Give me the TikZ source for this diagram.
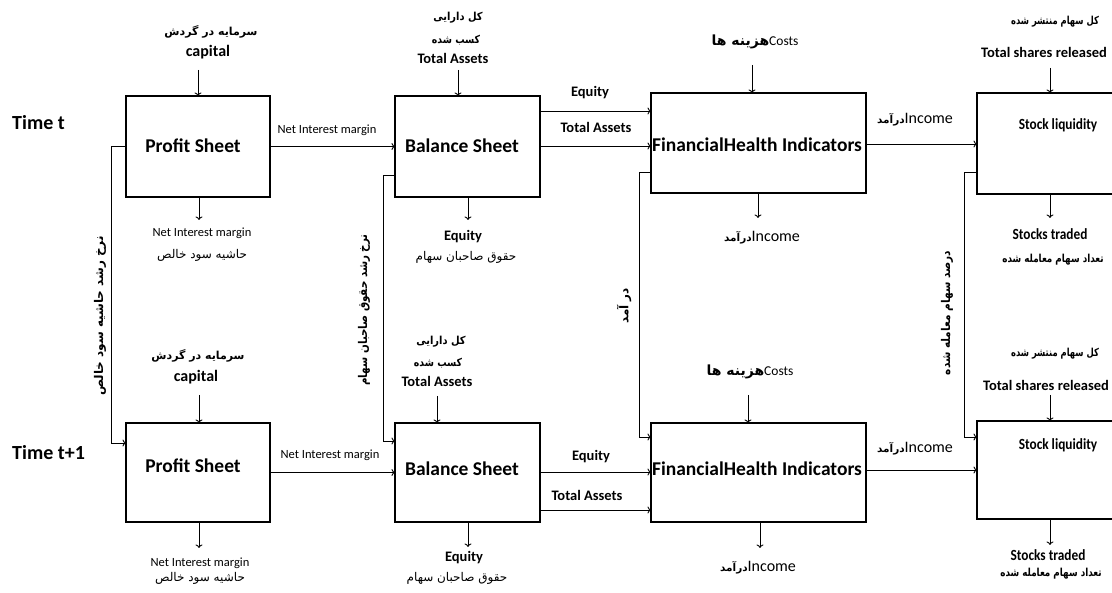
\documentclass[tikz,border=0pt]{standalone}
\usepackage{fontspec}
\usepackage{graphicx}
\setmainfont{Carlito}
\newfontfamily\ar[Script=Arabic]{DejaVu Sans}
\TeXXeTstate=1
\usetikzlibrary{arrows.meta}
\newcommand\fa[1]{{\ar\beginR #1\endR}}
\newcommand\sx[2]{\scalebox{#1}[1]{#2}}
\begin{document}
\begin{tikzpicture}[x=1pt,y=-1pt,
  box/.style={draw, line width=1.2pt, inner sep=0pt, outer sep=0pt, anchor=north west},
  arr/.style={-{To[length=3.5pt,width=7pt]}, line width=0.9pt},
  tt/.style={font=\bfseries\fontsize{20}{22}\selectfont, inner sep=0pt},
  bt/.style={font=\bfseries\fontsize{19.5}{22}\selectfont, inner sep=0pt},
  slt/.style={font=\bfseries\fontsize{15.5}{17}\selectfont, inner sep=0pt},
  enb/.style={font=\bfseries\fontsize{14.5}{16}\selectfont, inner sep=0pt},
  captxt/.style={font=\bfseries\fontsize{16}{18}\selectfont, inner sep=0pt},
  enr/.style={font=\fontsize{12.5}{14}\selectfont, inner sep=0pt},
  inc/.style={font=\fontsize{16}{18}\selectfont, inner sep=0pt},
  cst/.style={font=\fontsize{13.5}{15}\selectfont, inner sep=0pt},
  far/.style={font=\fontsize{12}{14}\selectfont, inner sep=0pt},
  fab/.style={font=\bfseries\fontsize{11}{13}\selectfont, inner sep=0pt},
  vfa/.style={font=\bfseries\fontsize{12}{14}\selectfont, inner sep=0pt, rotate=90}]
\fill[white] (0,0) rectangle (1112,593);
\useasboundingbox (0,0) rectangle (1112,593);

% time labels
\node[tt, anchor=west] (tt1) at (12,123) {Time t};
\node[tt, anchor=west] (tt2) at (12,453) {Time t+1};

% boxes
\node[box, minimum width=144, minimum height=101] (ps1) at (126,96) {};
\node[box, minimum width=145, minimum height=101] (bs1) at (395,96) {};
\node[box, minimum width=215, minimum height=100] (fh1) at (651,93) {};
\node[box, minimum width=160, minimum height=101] (sl1) at (977,93) {};
\node[box, minimum width=144, minimum height=99] (ps2) at (126,423) {};
\node[box, minimum width=145, minimum height=99] (bs2) at (395,423) {};
\node[box, minimum width=215, minimum height=99] (fh2) at (651,423) {};
\node[box, minimum width=160, minimum height=98] (sl2) at (977,421) {};

% box texts
\node[bt] (ps1t) at (193,146) {Profit Sheet};
\node[bt] (bs1t) at (462,146) {Balance Sheet};
\node[bt] (fh1t) at (757,145) {FinancialHealth Indicators};
\node[slt] (sl1t) at (1058,125) {\sx{0.86}{Stock liquidity}};
\node[bt] (ps2t) at (193,466) {Profit Sheet};
\node[bt] (bs2t) at (462,469) {Balance Sheet};
\node[bt] (fh2t) at (757,469) {FinancialHealth Indicators};
\node[slt] (sl2t) at (1058,445) {\sx{0.86}{Stock liquidity}};

% ---------- row 1 inputs ----------
\node[fab] (a1) at (211,32) {\fa{سرمایه در گردش}};
\node[captxt] (a2) at (208,52) {capital};
\coordinate (a3) at (198,70);
\draw[arr] (a3) -- (a3 |- ps1.north);

\node[fab] (b1) at (458,18) {\sx{0.9}{\fa{کل دارایی}}};
\node[fab] (b2) at (456,40) {\sx{0.85}{\fa{کسب شده}}};
\node[enb] (b3) at (453,58) {Total Assets};
\coordinate (b4) at (458,70);
\draw[arr] (b4) -- (b4 |- bs1.north);

\node[cst] (c1) at (755,42) {\fa{\bfseries\fontsize{14}{16}\selectfont هزینه ها}Costs};
\coordinate (c2) at (752,65);
\draw[arr] (c2) -- (c2 |- fh1.north);

\node[fab] (d1) at (1055,22) {\sx{0.76}{\fa{کل سهام منتشر شده}}};
\node[enb] (d2) at (1044,52) {Total shares released};
\coordinate (d3) at (1050,68);
\draw[arr] (d3) -- (d3 |- sl1.north);

% ---------- row 1 outputs ----------
\coordinate (e1) at (199,220);
\draw[arr] (e1 |- ps1.south) -- (e1);
\node[enr] (e2) at (202,233) {Net Interest margin};
\node[far] (e3) at (202,255) {\fa{حاشیه سود خالص}};

\coordinate (f1) at (468,220);
\draw[arr] (f1 |- bs1.south) -- (f1);
\node[enb] (f2) at (463,237) {Equity};
\node[far] (f3) at (466,257) {\fa{حقوق صاحبان سهام}};

\coordinate (g1) at (758,218);
\draw[arr] (g1 |- fh1.south) -- (g1);
\node[inc] (g2) at (762,238) {\fa{\bfseries\fontsize{10.5}{12}\selectfont درآمد}Income};

\coordinate (h1) at (1050,218);
\draw[arr] (h1 |- sl1.south) -- (h1);
\node[slt] (h2) at (1050,234) {\sx{0.86}{Stocks traded}};
\node[fab] (h3) at (1053,260) {\sx{0.8}{\fa{تعداد سهام معامله شده}}};

% ---------- row 1 horizontal ----------
\draw[arr] (ps1.east) -- (bs1.west);
\node[enr] (i1) at (327,130) {Net Interest margin};
\draw[arr] (bs1.east |- 0,111) -- (fh1.west |- 0,111);
\node[enb] (i2) at (590,93) {Equity};
\draw[arr] (bs1.east |- 0,146) -- (fh1.west |- 0,146);
\node[enb] (i3) at (596,127) {Total Assets};
\draw[arr] (fh1.east |- 0,144) -- (sl1.west |- 0,144);
\node[inc] (i4) at (915,120) {\fa{\bfseries\fontsize{10.5}{12}\selectfont درآمد}Income};

% ---------- row 2 inputs ----------
\node[fab] (j1) at (198,356) {\fa{سرمایه در گردش}};
\node[captxt] (j2) at (196,377) {capital};
\coordinate (j3) at (199,395);
\draw[arr] (j3) -- (j3 |- ps2.north);

\node[fab] (k1) at (441,342) {\sx{0.9}{\fa{کل دارایی}}};
\node[fab] (k2) at (438,363) {\sx{0.85}{\fa{کسب شده}}};
\node[enb] (k3) at (437,381) {Total Assets};
\coordinate (k4) at (437,396);
\draw[arr] (k4) -- (k4 |- bs2.north);

\node[cst] (l1) at (750,372) {\fa{\bfseries\fontsize{14}{16}\selectfont هزینه ها}Costs};
\coordinate (l2) at (748,395);
\draw[arr] (l2) -- (l2 |- fh2.north);

\node[fab] (m1) at (1055,354) {\sx{0.76}{\fa{کل سهام منتشر شده}}};
\node[enb] (m2) at (1046,385) {Total shares released};
\coordinate (m3) at (1050,395);
\draw[arr] (m3) -- (m3 |- sl2.north);

% ---------- row 2 outputs ----------
\coordinate (n1) at (199,548);
\draw[arr] (n1 |- ps2.south) -- (n1);
\node[enr] (n2) at (200,563) {Net Interest margin};
\node[far] (n3) at (200,578) {\fa{حاشیه سود خالص}};

\coordinate (o1) at (468,547);
\draw[arr] (o1 |- bs2.south) -- (o1);
\node[enb] (o2) at (464,558) {Equity};
\node[far] (o3) at (457,578) {\fa{حقوق صاحبان سهام}};

\coordinate (p1) at (760,548);
\draw[arr] (p1 |- fh2.south) -- (p1);
\node[inc] (p2) at (758,568) {\fa{\bfseries\fontsize{10.5}{12}\selectfont درآمد}Income};

\coordinate (q1) at (1050,545);
\draw[arr] (q1 |- sl2.south) -- (q1);
\node[slt] (q2) at (1048,555) {\sx{0.86}{Stocks traded}};
\node[fab] (q3) at (1051,574) {\sx{0.8}{\fa{تعداد سهام معامله شده}}};

% ---------- row 2 horizontal ----------
\draw[arr] (ps2.east) -- (bs2.west);
\node[enr] (r1) at (330,455) {Net Interest margin};
\draw[arr] (bs2.east |- 0,472) -- (fh2.west |- 0,472);
\node[enb] (r2) at (591,457) {Equity};
\draw[arr] (bs2.east |- 0,510) -- (fh2.west |- 0,510);
\node[enb] (r3) at (587,495) {Total Assets};
\draw[arr] (fh2.east |- 0,470) -- (sl2.west |- 0,470);
\node[inc] (r4) at (915,449) {\fa{\bfseries\fontsize{10.5}{12}\selectfont درآمد}Income};

% ---------- feedback connectors ----------
\draw[arr] (ps1.west) -- ++(-15,0) |- (ps2.west |- 0,443);
\draw[arr] (bs1.west |- 0,175) -- ++(-12,0) |- (bs2.west |- 0,441);
\draw[arr] (fh1.west |- 0,172) -- ++(-12,0) |- (fh2.west |- 0,437);
\draw[arr] (sl1.west |- 0,172) -- ++(-13,0) |- (sl2.west |- 0,437);

\node[vfa] (v1) at (100,316) {\fa{نرخ رشد حاشیه سود خالص}};
\node[vfa] (v2) at (364,310) {\sx{0.86}{\fa{نرخ رشد حقوق صاحبان سهام}}};
\node[vfa] (v3) at (624,306) {\fa{در آمد}};
\node[vfa] (v4) at (947,313) {\sx{0.88}{\fa{درصد سهام معامله شده}}};
\end{tikzpicture}
\end{document}
